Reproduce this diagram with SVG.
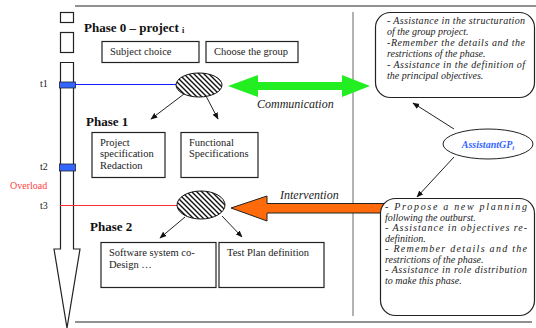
<svg xmlns="http://www.w3.org/2000/svg" width="536" height="328" viewBox="0 0 536 328" font-family="Liberation Serif, Times New Roman, serif">
<defs>
<style>
text{font-family:"Liberation Serif","Times New Roman",serif}
.ln{stroke:#222;stroke-width:1;fill:none}
.box{fill:#fff;stroke:#222;stroke-width:1.2}
.ph{font-weight:bold;font-size:13px;fill:#111}
.bt{font-size:10.5px;fill:#222}
.it{font-style:italic;font-size:10px;fill:#222}
.lbl{font-style:italic;font-size:12px;fill:#222}
.tl{font-size:10px;fill:#222}
.hat{fill:url(#hatch);stroke:#111;stroke-width:1}
</style>
<pattern id="hatch" width="5" height="5" patternUnits="userSpaceOnUse">
<rect width="5" height="5" fill="#fff"/>
<path d="M0,0 L5,5 M-1,4 L1,6 M4,-1 L6,1" stroke="#111" stroke-width="1.4"/>
</pattern>
<marker id="ah" viewBox="0 0 10 10" refX="9" refY="5" markerWidth="7" markerHeight="7" orient="auto" markerUnits="userSpaceOnUse">
<path d="M0,1 L10,5 L0,9 Z" fill="#111"/>
</marker>
</defs>

<g id="frame">
<line x1="75" y1="6" x2="536" y2="6" class="ln"/>
<line x1="75" y1="322" x2="532" y2="322" class="ln"/>
<line x1="353" y1="12" x2="353" y2="316" stroke="#666" stroke-width="1"/>
</g>

<g id="timeline">
<rect x="60.5" y="12.5" width="13" height="10" class="box"/>
<rect x="60.5" y="32.5" width="13" height="20" class="box"/>
<path d="M60.5,62.5 H73.5 V249 H80 L67,328 L54,249 H60.5 Z" class="box"/>
<rect x="59.5" y="82" width="16" height="6" fill="#3366ff" stroke="#223" stroke-width="0.8"/>
<rect x="59.5" y="164" width="16" height="7" fill="#3366ff" stroke="#223" stroke-width="0.8"/>
<text x="40" y="87" class="tl">t1</text>
<text x="40" y="170" class="tl">t2</text>
<text x="10" y="189" class="tl" style="fill:#ff4040">Overload</text>
<text x="40" y="209" class="tl">t3</text>
</g>

<g id="connectors">
<line x1="75" y1="84.5" x2="177" y2="84.5" stroke="#1a1aff" stroke-width="1"/>
<line x1="60" y1="205.5" x2="178" y2="205.5" stroke="#ff3030" stroke-width="1"/>
<line x1="184" y1="94" x2="151" y2="119" class="ln" marker-end="url(#ah)"/>
<line x1="206" y1="96" x2="218" y2="119" class="ln" marker-end="url(#ah)"/>
<line x1="185" y1="217" x2="160" y2="238" class="ln" marker-end="url(#ah)"/>
<line x1="222" y1="216" x2="242" y2="237" class="ln" marker-end="url(#ah)"/>
<line x1="454" y1="129" x2="413" y2="103" class="ln" marker-end="url(#ah)"/>
<line x1="454" y1="157" x2="417" y2="197" class="ln" marker-end="url(#ah)"/>
<path d="M228,86 L258,75 L258,82 L342,82 L342,75 L370,86 L342,97 L342,90 L258,90 L258,97 Z" fill="#22ee22"/>
<path d="M231,208 L267,196 L267,203.5 L385,203.5 L385,213 L267,213 L267,221 Z" fill="#ff6a0a" stroke="#222" stroke-width="1"/>
<text x="257" y="108" class="lbl">Communication</text>
<text x="280" y="199" class="lbl">Intervention</text>
</g>

<g id="phase0">
<text x="84" y="32" class="ph">Phase 0 – project <tspan font-size="8" dy="1">i</tspan></text>
</g>
<g id="subject">
<rect x="102" y="41.5" width="97" height="21" class="box"/>
<text x="110" y="55" class="bt">Subject choice</text>
</g>
<g id="group">
<rect x="206" y="41.5" width="92" height="21" class="box"/>
<text x="214" y="55" class="bt">Choose the group</text>
</g>
<g id="ellipse1">
<ellipse cx="199" cy="85" rx="23" ry="12" class="hat"/>
</g>

<g id="phase1">
<text x="86" y="126" class="ph">Phase 1</text>
</g>
<g id="projspec">
<rect x="92" y="132.5" width="73" height="45" class="box"/>
<text class="bt"><tspan x="100" y="146">Project</tspan><tspan x="100" y="157">specification</tspan><tspan x="100" y="168.5">Redaction</tspan></text>
</g>
<g id="funcspec">
<rect x="181" y="132.5" width="77" height="45" class="box"/>
<text class="bt"><tspan x="189" y="146">Functional</tspan><tspan x="189" y="157">Specifications</tspan></text>
</g>
<g id="ellipse2">
<ellipse cx="201" cy="205" rx="24" ry="14" class="hat"/>
</g>

<g id="phase2">
<text x="90" y="231" class="ph">Phase 2</text>
</g>
<g id="software">
<rect x="101" y="242.5" width="115" height="45" class="box"/>
<text class="bt"><tspan x="109" y="256">Software system co-</tspan><tspan x="109" y="267.5">Design …</tspan></text>
</g>
<g id="testplan">
<rect x="219" y="242.5" width="105" height="45" class="box"/>
<text class="bt"><tspan x="227" y="256">Test Plan definition</tspan></text>
</g>

<g id="callout1">
<rect x="375.5" y="12.5" width="159" height="85" rx="15" class="box"/>
<text class="it">
<tspan x="387" y="24" textLength="138" lengthAdjust="spacing">- Assistance in the structuration</tspan>
<tspan x="387" y="35">of the group project.</tspan>
<tspan x="387" y="46" textLength="138" lengthAdjust="spacing">-Remember the details and the</tspan>
<tspan x="387" y="57">restrictions of the phase.</tspan>
<tspan x="387" y="68" textLength="138" lengthAdjust="spacing">- Assistance in the definition of</tspan>
<tspan x="387" y="79">the principal objectives.</tspan>
</text>
</g>

<g id="assistant">
<ellipse cx="488" cy="144" rx="45" ry="15" fill="#fff" stroke="#222" stroke-width="1"/>
<text x="488" y="148" text-anchor="middle" font-style="italic" font-weight="bold" font-size="10" fill="#3366ff">AssistantGP<tspan font-size="7" dy="2">i</tspan></text>
</g>

<g id="callout2">
<rect x="380.5" y="198.5" width="154" height="117" rx="15" class="box"/>
<text class="it">
<tspan x="385" y="210" textLength="142" lengthAdjust="spacing">- Propose a new planning</tspan>
<tspan x="385" y="220.5">following the outburst.</tspan>
<tspan x="385" y="231" textLength="142" lengthAdjust="spacing">- Assistance in objectives re-</tspan>
<tspan x="385" y="241.5">definition.</tspan>
<tspan x="385" y="252" textLength="142" lengthAdjust="spacing">- Remember details and the</tspan>
<tspan x="385" y="262.5">restrictions of the phase.</tspan>
<tspan x="385" y="273" textLength="142" lengthAdjust="spacing">- Assistance in role distribution</tspan>
<tspan x="385" y="283.5">to make this phase.</tspan>
</text>
</g>
</svg>
